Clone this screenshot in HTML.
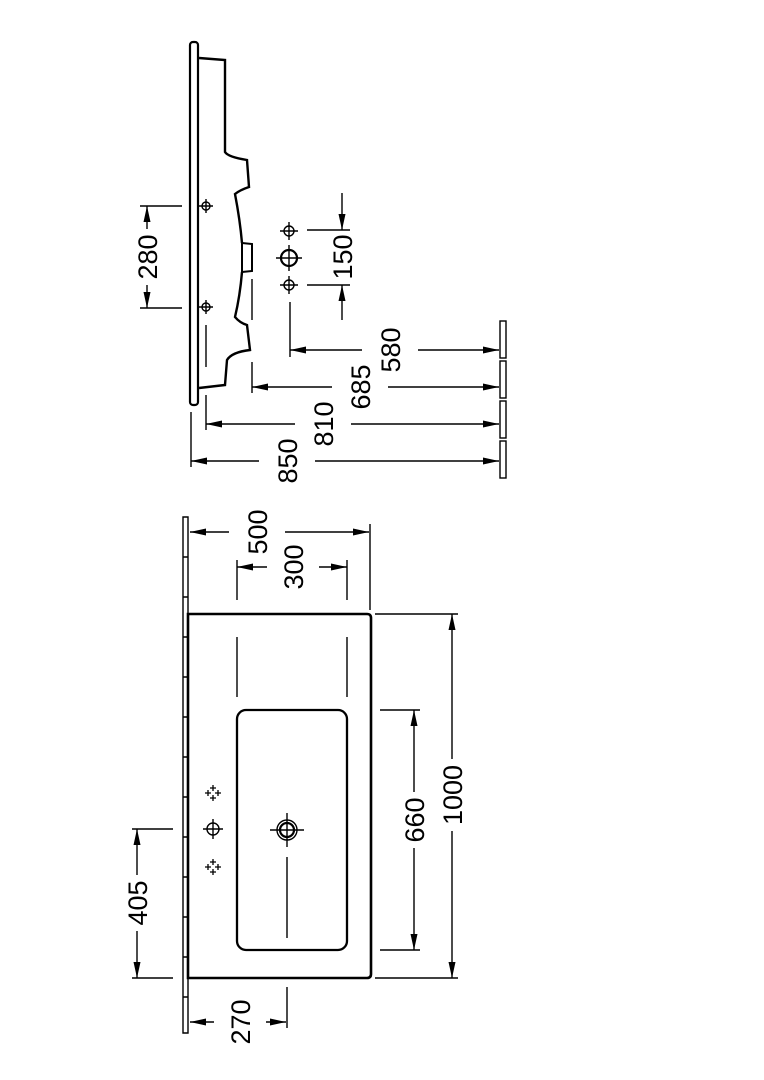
<!DOCTYPE html>
<html><head><style>html,body{margin:0;padding:0;background:#fff}svg{display:block}
text{font-family:"Liberation Sans",Arial,Helvetica,sans-serif;font-size:27px;fill:#000}</style></head>
<body>
<svg width="764" height="1080" viewBox="0 0 764 1080" xmlns="http://www.w3.org/2000/svg">
<defs>
<marker id="a" viewBox="0 0 16 7" refX="16" refY="3.5" markerWidth="16" markerHeight="7" markerUnits="userSpaceOnUse" orient="auto-start-reverse"><path d="M0,0L16,3.5L0,7z" fill="#000"/></marker>
<g id="tp"><g stroke="#000" stroke-width="1.3"><path d="M0,-8v6M-3,-5h6M0,2v6M-3,5h6M-8,0h6M-5,-3v6M2,0h6M5,-3v6"/></g></g>
</defs>
<g fill="none" stroke="#000" stroke-width="1.4">
<!-- TOP VIEW -->
<rect x="190" y="42" width="8" height="363" rx="3" stroke-width="2.2"/>
<path d="M199,58 L225,60 L225,152 Q228,157 247,160 L249,187 Q240,190 235,194 Q240,220 242,243 M242,272 Q240,296 235,317 Q240,323 247,325 L250,350 Q232,352 227,360 L225,385 L199,388" stroke-width="2.4"/>
<path d="M242,243 L252,244 L252,271 L242,272 Z" stroke-width="2"/>
<line x1="206" y1="325" x2="206" y2="367"/>
<line x1="252" y1="279" x2="252" y2="320"/>
<line x1="252" y1="362" x2="252" y2="393"/>
<line x1="206" y1="395" x2="206" y2="430"/>
<line x1="191" y1="412" x2="191" y2="467"/>
<circle cx="206" cy="206" r="4"/><path d="M206,199v14M199,206h14"/>
<circle cx="206" cy="307" r="4"/><path d="M206,300v14M199,307h14"/>
<!-- 280 -->
<line x1="140" y1="206" x2="182" y2="206"/><line x1="140" y1="308" x2="182" y2="308"/>
<line x1="147" y1="206" x2="147" y2="229" marker-start="url(#a)"/>
<line x1="147" y1="285" x2="147" y2="308" marker-end="url(#a)"/>
<!-- holes -->
<circle cx="289" cy="231" r="5"/><path d="M289,222v18M280,231h18"/>
<circle cx="289" cy="258" r="8" stroke-width="2.2"/><path d="M289,245v26M276,258h26"/>
<circle cx="289" cy="285" r="5"/><path d="M289,276v18M280,285h18"/>
<line x1="307" y1="230" x2="350" y2="230"/><line x1="307" y1="285" x2="350" y2="285"/>
<line x1="342" y1="193" x2="342" y2="230" marker-end="url(#a)"/>
<line x1="342" y1="320" x2="342" y2="285" marker-end="url(#a)"/>
<line x1="290" y1="302" x2="290" y2="357"/>
<!-- dims -->
<line x1="290" y1="350" x2="362" y2="350" marker-start="url(#a)"/><line x1="418" y1="350" x2="499" y2="350" marker-end="url(#a)"/>
<line x1="252" y1="387" x2="332" y2="387" marker-start="url(#a)"/><line x1="388" y1="387" x2="499" y2="387" marker-end="url(#a)"/>
<line x1="206" y1="424" x2="295" y2="424" marker-start="url(#a)"/><line x1="351" y1="424" x2="499" y2="424" marker-end="url(#a)"/>
<line x1="191" y1="461" x2="259" y2="461" marker-start="url(#a)"/><line x1="315" y1="461" x2="499" y2="461" marker-end="url(#a)"/>
<rect x="500" y="321" width="6" height="37"/><rect x="500" y="361" width="6" height="37"/><rect x="500" y="401" width="6" height="37"/><rect x="500" y="441" width="6" height="37"/>
<!-- BOTTOM VIEW -->
<path d="M183,517h5v516h-5z"/>
<path d="M183,557h5M183,597h5M183,637h5M183,677h5M183,717h5M183,757h5M183,797h5M183,837h5M183,877h5M183,917h5M183,957h5M183,997h5"/>
<path d="M188,614 L367,614 Q371,614 371,618 L371,974 Q371,978 367,978 L188,978 Z" stroke-width="2.6"/>
<rect x="237" y="710" width="110" height="240" rx="9" stroke-width="2.3"/>
<line x1="237" y1="637" x2="237" y2="697"/><line x1="347" y1="637" x2="347" y2="697"/>
<line x1="237" y1="560" x2="237" y2="600"/><line x1="347" y1="560" x2="347" y2="600"/>
<line x1="370" y1="524" x2="370" y2="610"/>
<line x1="190" y1="532" x2="229" y2="532" marker-start="url(#a)"/><line x1="285" y1="532" x2="369" y2="532" marker-end="url(#a)"/>
<line x1="237" y1="567" x2="267" y2="567" marker-start="url(#a)"/><line x1="319" y1="567" x2="347" y2="567" marker-end="url(#a)"/>
<line x1="375" y1="614" x2="458" y2="614"/><line x1="375" y1="978" x2="458" y2="978"/>
<line x1="452" y1="614" x2="452" y2="759" marker-start="url(#a)"/><line x1="452" y1="831" x2="452" y2="978" marker-end="url(#a)"/>
<line x1="380" y1="710" x2="420" y2="710"/><line x1="380" y1="950" x2="420" y2="950"/>
<line x1="414" y1="710" x2="414" y2="792" marker-start="url(#a)"/><line x1="414" y1="848" x2="414" y2="950" marker-end="url(#a)"/>
<circle cx="287" cy="830" r="10"/><circle cx="287" cy="830" r="7" stroke-width="2.2"/><path d="M287,813v34M270,830h34"/>
<line x1="287" y1="857" x2="287" y2="938"/>
<circle cx="213" cy="829" r="6"/><path d="M213,819v20M203,829h20"/>
<line x1="132" y1="829" x2="173" y2="829"/><line x1="132" y1="978" x2="173" y2="978"/>
<line x1="137" y1="829" x2="137" y2="875" marker-start="url(#a)"/><line x1="137" y1="931" x2="137" y2="978" marker-end="url(#a)"/>
<line x1="287" y1="987" x2="287" y2="1028"/>
<line x1="190" y1="1022" x2="214" y2="1022" marker-start="url(#a)"/><line x1="266" y1="1022" x2="286" y2="1022" marker-end="url(#a)"/>
</g>
<use href="#tp" x="213" y="793"/><use href="#tp" x="213" y="867"/>
<g text-anchor="middle">
<text transform="translate(157,257) rotate(-90)">280</text>
<text transform="translate(352,257) rotate(-90)">150</text>
<text transform="translate(400,350) rotate(-90)">580</text>
<text transform="translate(370,387) rotate(-90)">685</text>
<text transform="translate(333,424) rotate(-90)">810</text>
<text transform="translate(297,461) rotate(-90)">850</text>
<text transform="translate(267,532) rotate(-90)">500</text>
<text transform="translate(303,567) rotate(-90)">300</text>
<text transform="translate(462,795) rotate(-90)">1000</text>
<text transform="translate(424,820) rotate(-90)">660</text>
<text transform="translate(147,903) rotate(-90)">405</text>
<text transform="translate(250,1022) rotate(-90)">270</text>
</g>
</svg>
</body></html>
